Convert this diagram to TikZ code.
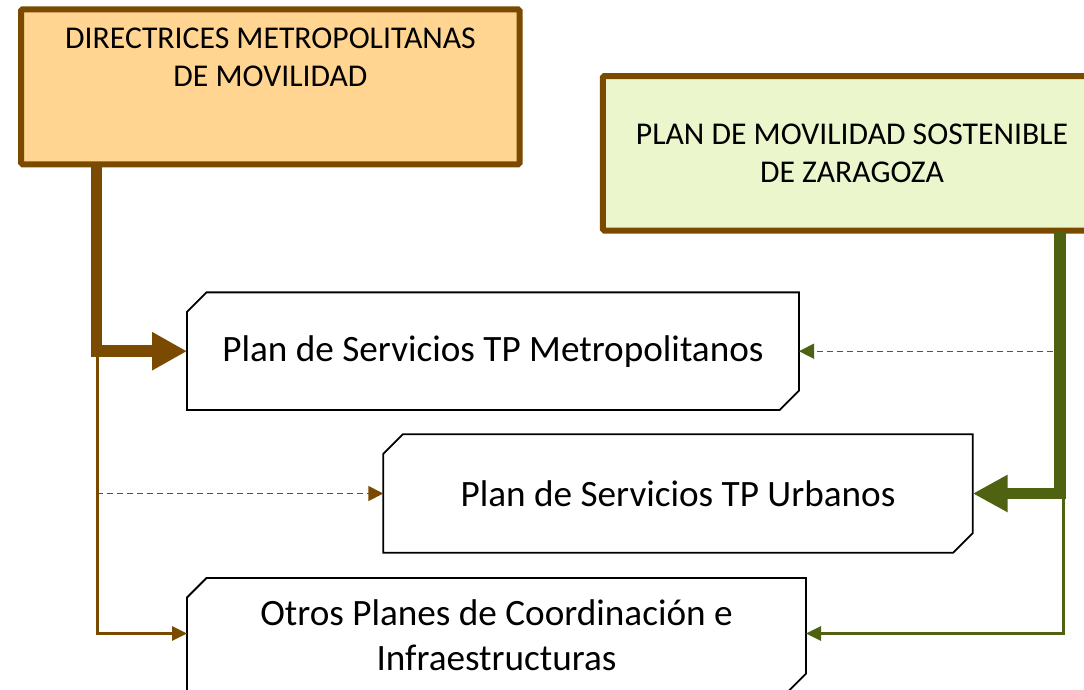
\documentclass[tikz,border=0pt]{standalone}
\usepackage{fontspec}
\setmainfont{Carlito}
\usetikzlibrary{arrows.meta,calc}
\definecolor{brownC}{RGB}{122,74,0}
\definecolor{orangeF}{RGB}{255,213,145}
\definecolor{greenF}{RGB}{235,246,204}
\definecolor{greenC}{RGB}{78,98,18}
\newcommand\snipbox[1]{\draw[snipline] ([yshift=-19.5pt]#1.north west) -- ([xshift=19.5pt]#1.north west) -- (#1.north east) -- ([yshift=19.5pt]#1.south east) -- ([xshift=-19.5pt]#1.south east) -- (#1.south west) -- cycle;}
\tikzset{
  hdr/.style={draw=brownC, line width=6pt, rounded corners=1.5pt, minimum width=498.5pt, minimum height=155pt, inner sep=0pt, outer sep=0pt, align=center, font=\fontsize{31.7}{38}\selectfont},
  hdrtext/.style={align=center, inner sep=0pt, font=\fontsize{31.7}{38}\selectfont},
  planbox/.style={inner sep=0pt, outer sep=0pt, align=center, font=\fontsize{37.2}{45}\selectfont},
  snipline/.style={draw=black, line width=1.8pt, line join=miter},
  brthick/.style={draw=brownC, line width=11.5pt, -{Triangle[length=35pt,width=36pt]}},
  brthin/.style={draw=brownC, line width=3pt, -{Triangle[length=15pt,width=14pt]}},
  brdash/.style={draw=brownC, line width=1.4pt, dash pattern=on 6pt off 4pt, -{Triangle[length=15pt,width=15pt]}},
  grthick/.style={draw=greenC, line width=11.5pt, -{Triangle[length=35pt,width=35pt]}},
  grthin/.style={draw=greenC, line width=3pt, -{Triangle[length=15pt,width=14pt]}},
  grdash/.style={draw=greenC, line width=1.4pt, dash pattern=on 6pt off 4pt, -{Triangle[length=15pt,width=15pt]}},
}
\begin{document}
\begin{tikzpicture}[x=1pt,y=-1pt]
\useasboundingbox (0,0) rectangle (1084,689);
\clip (0,0) rectangle (1084,689);
\fill[white] (0,0) rectangle (1084,689);
% header boxes
\node[hdr, fill=orangeF] (dir) at (270.25,86.75) {};
\node[hdrtext] (dirtxt) at (270.5,57.5) {DIRECTRICES METROPOLITANAS\\DE MOVILIDAD};
\node[hdr, fill=greenF, minimum height=154.5pt] (pms) at (852,153.25) {PLAN DE MOVILIDAD SOSTENIBLE\\DE ZARAGOZA};
% plan boxes
\node[planbox, minimum width=612pt, minimum height=117.7pt] (metro) at (493,351.2) {Plan de Servicios TP Metropolitanos};
\node[planbox, minimum width=589.4pt, minimum height=118.4pt] (urb) at (678,493.5) {Plan de Servicios TP Urbanos};
\node[planbox, minimum width=619pt, minimum height=115pt] (otros) at (496.5,635.5) {Otros Planes de Coordinación e\\Infraestructuras};
\snipbox{metro}
\snipbox{urb}
\snipbox{otros}
% connector anchor points
\coordinate (bx) at (97,351);
\coordinate (gx) at (1063,493.5);
% brown connectors
\draw[brthin] (bx) |- ([yshift=2pt]otros.west);
\draw[brdash] (bx |- urb.west) -- (urb.west);
\draw[brthick] ([xshift=75.5pt]dir.south west) |- (metro.west);
% green connectors
\draw[grthin] (gx) |- ([yshift=2pt]otros.east);
\draw[grdash] (gx |- metro.east) -- (metro.east);
\draw[grthick] ([xshift=457pt]pms.south west) |- (urb.east);
\end{tikzpicture}
\end{document}
